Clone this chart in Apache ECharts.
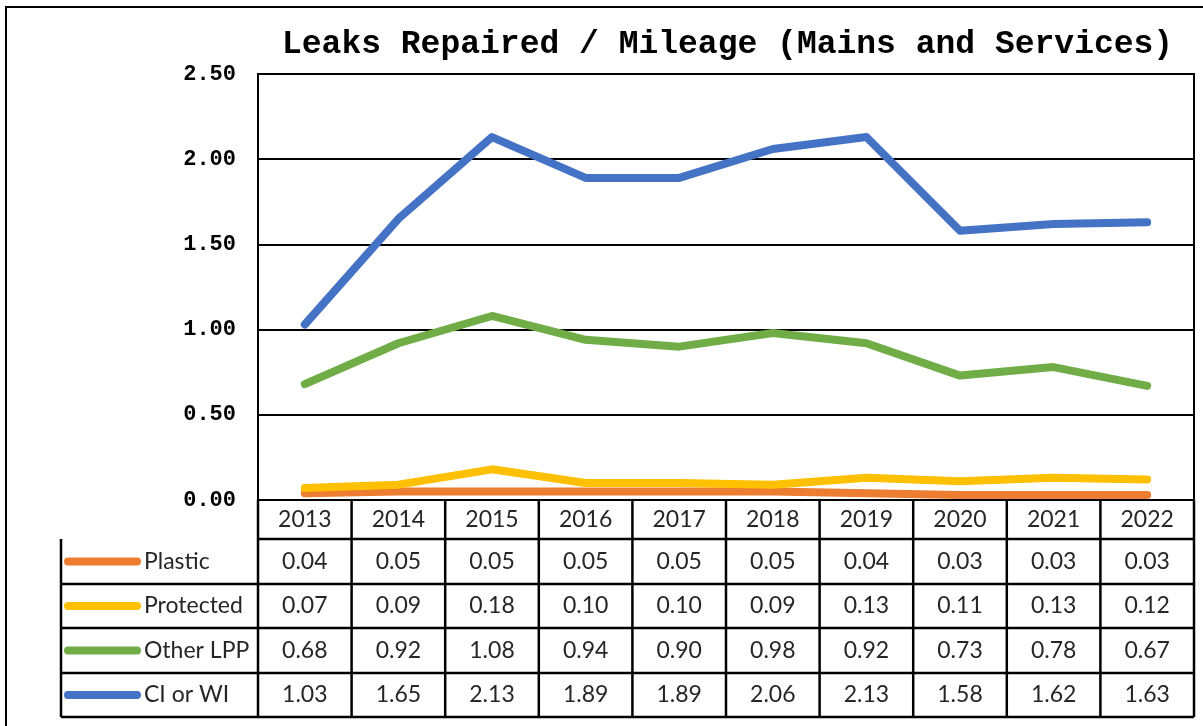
<!DOCTYPE html>
<html>
<head>
<meta charset="utf-8">
<script src="https://cdn.jsdelivr.net/npm/echarts@6/dist/echarts.min.js"></script>
<style>
  html, body { margin: 0; padding: 0; background: #fff; }
  #main { width: 1203px; height: 726px; }
</style>
</head>
<body>
<div id="main"></div>
<script type="text/javascript">
// data
var years = ['2013', '2014', '2015', '2016', '2017', '2018', '2019', '2020', '2021', '2022'];
var seriesNames = ['Plastic', 'Protected', 'Other LPP', 'CI or WI'];
var seriesColors = ['#ED7D31', '#FFC000', '#70AD47', '#4472C4'];
var plastic   = [0.04, 0.05, 0.05, 0.05, 0.05, 0.05, 0.04, 0.03, 0.03, 0.03];
var protectedV = [0.07, 0.09, 0.18, 0.10, 0.10, 0.09, 0.13, 0.11, 0.13, 0.12];
var otherLPP  = [0.68, 0.92, 1.08, 0.94, 0.90, 0.98, 0.92, 0.73, 0.78, 0.67];
var ciWI      = [1.03, 1.65, 2.13, 1.89, 1.89, 2.06, 2.13, 1.58, 1.62, 1.63];
var allValues = [plastic, protectedV, otherLPP, ciWI];

// layout (px)
var W = 1203, H = 726;
var plotL = 258, plotR = 1194, plotT = 74, plotB = 500;
var tableL = 61;
var rowLines = [500, 539, 584, 628, 673, 717];
var colW = (plotR - plotL) / years.length;
var tableFont = 'Lato, "Noto Sans", sans-serif';

var myChart = echarts.init(document.getElementById('main'));

// x axes: first one = years header, then one per data row of the table
var xAxes = [{
    type: 'category',
    data: years,
    boundaryGap: true,
    axisLine: { lineStyle: { color: '#000', width: 2 } },
    axisTick: { show: false },
    axisLabel: { margin: 8, fontFamily: tableFont, fontSize: 23, color: '#262626' }
}];
for (var r = 0; r < allValues.length; r++) {
    var centerY = (rowLines[r + 1] + rowLines[r + 2]) / 2;
    xAxes.push({
        type: 'category',
        position: 'bottom',
        offset: centerY - 519.5,
        data: allValues[r].map(function (v) { return v.toFixed(2); }),
        boundaryGap: true,
        axisLine: { show: false },
        axisTick: { show: false },
        axisLabel: { margin: 8, fontFamily: tableFont, fontSize: 23, color: '#262626' }
    });
}

// table borders + legend keys
var graphics = [{
    type: 'rect',
    shape: { x: 6, y: 7, width: 1400, height: 900 },
    style: { fill: null, stroke: '#000', lineWidth: 2 },
    z: 100
}];
for (var i = 1; i < rowLines.length; i++) {
    graphics.push({
        type: 'line',
        shape: { x1: i === 1 ? plotL : tableL, y1: rowLines[i], x2: plotR, y2: rowLines[i] },
        style: { stroke: '#000', lineWidth: 2.5 }, z: 100
    });
}
for (var k = 0; k <= years.length; k++) {
    var x = plotL + colW * k;
    graphics.push({
        type: 'line',
        shape: { x1: x, y1: plotB, x2: x, y2: rowLines[rowLines.length - 1] },
        style: { stroke: '#000', lineWidth: 2.5 }, z: 100
    });
}
graphics.push({
    type: 'line',
    shape: { x1: tableL, y1: rowLines[1], x2: tableL, y2: rowLines[rowLines.length - 1] },
    style: { stroke: '#000', lineWidth: 2.5 }, z: 100
});
for (var s = 0; s < seriesNames.length; s++) {
    var cy = (rowLines[s + 1] + rowLines[s + 2]) / 2;
    graphics.push({
        type: 'line',
        shape: { x1: 68, y1: cy, x2: 137, y2: cy },
        style: { stroke: seriesColors[s], lineWidth: 8, lineCap: 'round' }, z: 100
    });
    graphics.push({
        type: 'text',
        x: 144, y: cy,
        style: {
            text: seriesNames[s], font: '23px ' + tableFont, fill: '#262626',
            textAlign: 'left', textVerticalAlign: 'middle'
        }, z: 100
    });
}

var series = [];
for (var j = 0; j < seriesNames.length; j++) {
    series.push({
        name: seriesNames[j],
        type: 'line',
        data: allValues[j],
        xAxisIndex: 0,
        symbol: 'none',
        lineStyle: { color: seriesColors[j], width: 8, cap: 'round', join: 'round' },
        itemStyle: { color: seriesColors[j] }
    });
}

var option = {
    backgroundColor: '#fff',
    animation: false,
    title: {
        text: 'Leaks Repaired / Mileage (Mains and Services)',
        left: 277, top: 23,
        textStyle: { fontFamily: '"Courier New", "Liberation Mono", monospace', fontWeight: 'bold', fontSize: 33, color: '#000' }
    },
    grid: {
        left: plotL, right: W - plotR, top: plotT, bottom: H - plotB,
        show: true, borderColor: '#000', borderWidth: 2
    },
    xAxis: xAxes,
    yAxis: {
        type: 'value',
        min: 0, max: 2.5, interval: 0.5,
        axisLine: { show: true, lineStyle: { color: '#000', width: 2 } },
        axisTick: { show: false },
        splitLine: { lineStyle: { color: '#000', width: 2 } },
        axisLabel: {
            margin: 22,
            formatter: function (v) { return v.toFixed(2); },
            fontFamily: '"Courier New", "Liberation Mono", monospace',
            fontWeight: 'bold', fontSize: 22, color: '#000'
        }
    },
    graphic: graphics,
    series: series
};

myChart.setOption(option);
</script>
</body>
</html>
